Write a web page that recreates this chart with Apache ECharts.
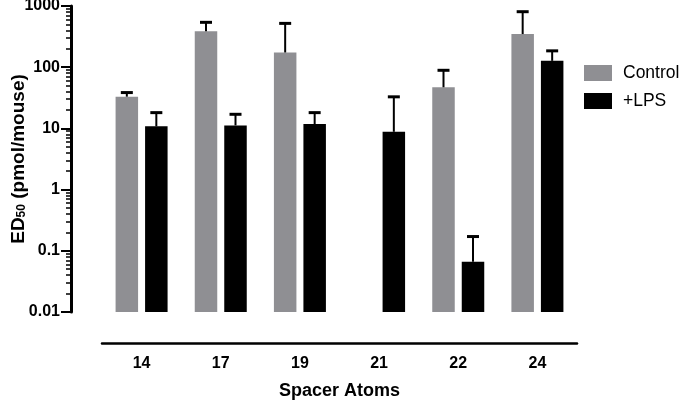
<!DOCTYPE html>
<html>
<head>
<meta charset="utf-8">
<script src="https://cdn.jsdelivr.net/npm/echarts@6/dist/echarts.min.js"></script>
<style>
html,body{margin:0;padding:0;background:#fff;}
#chart{width:683px;height:403px;}
</style>
</head>
<body>
<div id="chart"></div>
<script>
// ---- data ----
const categories = ['14', '17', '19', '21', '22', '24'];
const seriesNames = ['Control', '+LPS'];
const controlValues = [33, 385, 174, null, 47, 348];
const controlUpper = [38.5, 541, 520, null, 89, 807];
const lpsValues = [10.8, 11.2, 11.8, 8.8, 0.066, 127];
const lpsUpper = [18.1, 17, 18.1, 32.8, 0.171, 185];
const yTickLabels = ['0.01', '0.1', '1', '10', '100', '1000'];
const yMin = 0.01, yMax = 1000;

// ---- styles ----
const FONT = '"Liberation Sans", Arial, Helvetica, sans-serif';
const GRAY = '#8f8f93';
const BLACK = '#000000';
const BAR_W = 22.5;
const BAR_GAP_PX = 7;

// minor tick positions (2..9 within each decade)
const minorTicks = [];
for (let e = -2; e < 3; e++) {
  for (let k = 2; k <= 9; k++) minorTicks.push(+(k * Math.pow(10, e)).toPrecision(3));
}

function errData(vals, upper) {
  const out = [];
  vals.forEach((v, i) => { if (v != null && upper[i] != null) out.push([i, v, upper[i]]); });
  return out;
}

function makeErrRender(side) {
  return function (params, api) {
    const i = api.value(0);
    const base = api.coord([i, api.value(1)]);
    const top = api.coord([i, api.value(2)]);
    const cx = base[0] + side * (BAR_W + BAR_GAP_PX) / 2;
    return {
      type: 'group',
      children: [
        { type: 'line', shape: { x1: cx, y1: base[1], x2: cx, y2: top[1] },
          style: { stroke: '#000', lineWidth: 2 } },
        { type: 'line', shape: { x1: cx - 6, y1: top[1], x2: cx + 6, y2: top[1] },
          style: { stroke: '#000', lineWidth: 3 } }
      ]
    };
  };
}

const chart = echarts.init(document.getElementById('chart'), null, { renderer: 'canvas' });
chart.setOption({
  animation: false,
  backgroundColor: '#fff',
  textStyle: { fontFamily: FONT },
  grid: { left: 102, right: 106, top: 6, bottom: 91, containLabel: false, outerBoundsMode: 'none' },
  legend: {
    orient: 'vertical',
    left: 584, top: 64,
    padding: 0,
    itemWidth: 28, itemHeight: 16, itemGap: 10,
    icon: 'rect',
    data: seriesNames,
    textStyle: { fontFamily: FONT, fontSize: 17.5, color: '#000', lineHeight: 16, padding: [0, 0, 0, 6] }
  },
  xAxis: {
    type: 'category',
    data: categories,
    offset: 31,
    name: 'Spacer Atoms',
    nameLocation: 'middle',
    nameGap: 39,
    nameMoveOverlap: false,
    nameTextStyle: { fontFamily: FONT, fontSize: 18, fontWeight: 'bold', color: '#000' },
    axisLine: { lineStyle: { color: '#000', width: 2.5 } },
    axisTick: { alignWithLabel: true, length: 7, lineStyle: { color: '#000', width: 2 } },
    axisLabel: { fontFamily: FONT, fontSize: 16, fontWeight: 'bold', color: '#000', margin: 13 },
    splitLine: { show: false }
  },
  yAxis: [{
    type: 'log',
    logBase: 10,
    min: yMin, max: yMax,
    startValue: yMin,
    splitNumber: 5,
    offset: 31,
    name: '{m|ED}{s|50}{m| (pmol/mouse)}',
    nameLocation: 'middle',
    nameRotate: 90,
    nameGap: 43,
    nameMoveOverlap: false,
    nameTextStyle: {
      rich: {
        m: { fontFamily: FONT, fontSize: 19, fontWeight: 'bold', color: '#000', lineHeight: 22, verticalAlign: 'bottom' },
        s: { fontFamily: FONT, fontSize: 12, fontWeight: 'bold', color: '#000', lineHeight: 17, verticalAlign: 'bottom' }
      }
    },
    axisLine: { show: true, lineStyle: { color: '#000', width: 3 } },
    axisTick: { show: true, length: 10, lineStyle: { color: '#000', width: 2 } },
    axisLabel: {
      fontFamily: FONT, fontSize: 16, fontWeight: 'bold', color: '#000', margin: 11,
      formatter: function (v) {
        const idx = Math.round(Math.log10(v) - Math.log10(yMin));
        return yTickLabels[idx] !== undefined ? yTickLabels[idx] : '';
      }
    },
    splitLine: { show: false }
  }, {
    type: 'log',
    logBase: 10,
    min: yMin, max: yMax,
    offset: 31,
    position: 'left',
    axisLine: { show: false },
    axisLabel: { show: false },
    axisTick: { show: true, length: 5, customValues: minorTicks, lineStyle: { color: '#000', width: 1.5 } },
    splitLine: { show: false }
  }],
  series: [
    {
      name: seriesNames[0], type: 'bar', data: controlValues,
      barWidth: BAR_W, barGap: (BAR_GAP_PX / BAR_W * 100) + '%',
      itemStyle: { color: GRAY }, z: 2
    },
    {
      name: seriesNames[1], type: 'bar', data: lpsValues,
      barWidth: BAR_W, barGap: (BAR_GAP_PX / BAR_W * 100) + '%',
      itemStyle: { color: BLACK }, z: 2
    },
    {
      type: 'custom', name: 'errControl', data: errData(controlValues, controlUpper),
      renderItem: makeErrRender(-1), encode: { x: 0, y: [1, 2] }, z: 3, silent: true
    },
    {
      type: 'custom', name: 'errLPS', data: errData(lpsValues, lpsUpper),
      renderItem: makeErrRender(1), encode: { x: 0, y: [1, 2] }, z: 3, silent: true
    }
  ]
});
</script>
</body>
</html>
